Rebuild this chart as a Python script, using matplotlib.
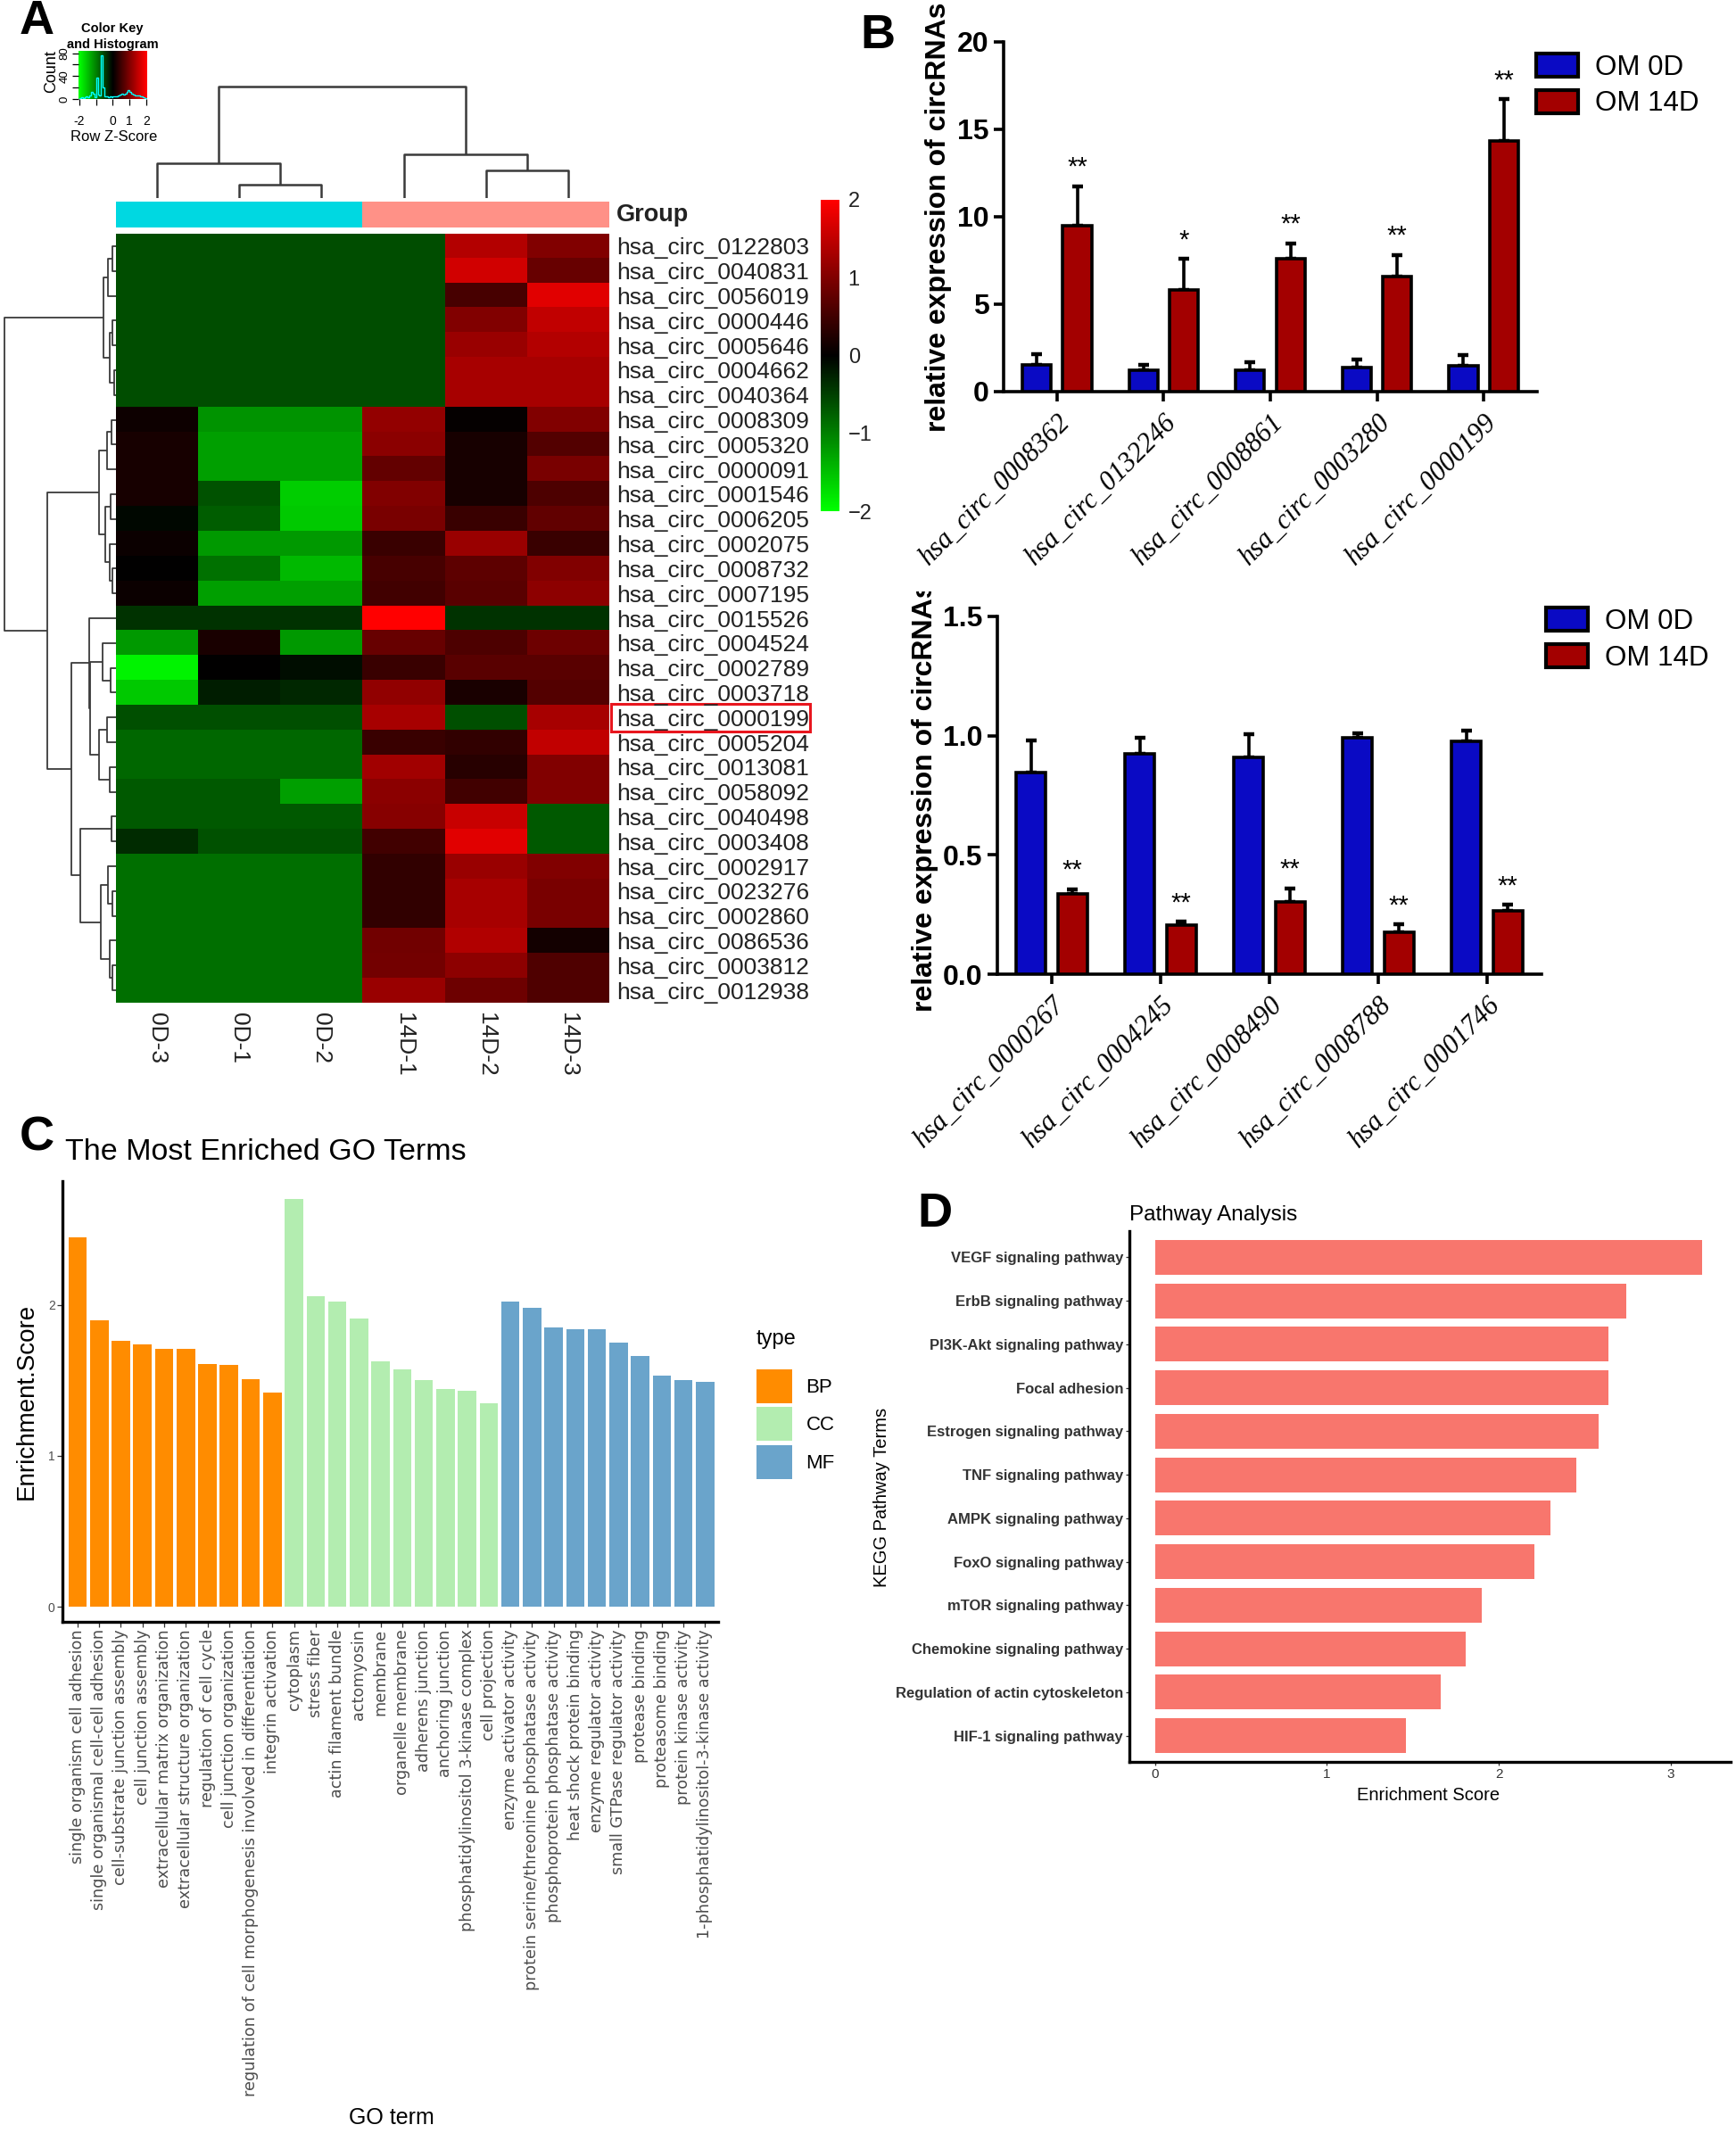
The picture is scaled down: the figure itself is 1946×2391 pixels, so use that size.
import numpy as np
import matplotlib
matplotlib.use("Agg")
import matplotlib.pyplot as plt
from matplotlib.colors import LinearSegmentedColormap, ListedColormap
from matplotlib.patches import Patch, Rectangle
from matplotlib.transforms import Bbox, TransformedBbox

W, H = 1946, 2391
SANS = ["Liberation Sans", "DejaVu Sans"]
SERIF = ["Liberation Serif", "DejaVu Serif"]

# ── Panel A: heatmap data ─────────────────────────────────────────────────────
samples = ["0D-3", "0D-1", "0D-2", "14D-1", "14D-2", "14D-3"]
sample_group = [0, 0, 0, 1, 1, 1]
group_colors = ["#00D8E1", "#FF9187"]

circ_ids = [
    "hsa_circ_0122803", "hsa_circ_0040831", "hsa_circ_0056019", "hsa_circ_0000446",
    "hsa_circ_0005646", "hsa_circ_0004662", "hsa_circ_0040364", "hsa_circ_0008309",
    "hsa_circ_0005320", "hsa_circ_0000091", "hsa_circ_0001546", "hsa_circ_0006205",
    "hsa_circ_0002075", "hsa_circ_0008732", "hsa_circ_0007195", "hsa_circ_0015526",
    "hsa_circ_0004524", "hsa_circ_0002789", "hsa_circ_0003718", "hsa_circ_0000199",
    "hsa_circ_0005204", "hsa_circ_0013081", "hsa_circ_0058092", "hsa_circ_0040498",
    "hsa_circ_0003408", "hsa_circ_0002917", "hsa_circ_0023276", "hsa_circ_0002860",
    "hsa_circ_0086536", "hsa_circ_0003812", "hsa_circ_0012938",
]
highlight_id = "hsa_circ_0000199"

zscores = np.array([
    [-0.60, -0.60, -0.60, -0.60, 1.40, 1.00],
    [-0.60, -0.60, -0.60, -0.60, 1.63, 0.80],
    [-0.60, -0.60, -0.60, -0.60, 0.55, 1.75],
    [-0.60, -0.60, -0.60, -0.60, 1.00, 1.50],
    [-0.60, -0.60, -0.60, -0.60, 1.20, 1.40],
    [-0.60, -0.60, -0.60, -0.60, 1.30, 1.30],
    [-0.60, -0.60, -0.60, -0.60, 1.30, 1.30],
    [0.10, -1.15, -1.15, 1.15, 0.04, 1.00],
    [0.18, -1.25, -1.25, 1.08, 0.18, 0.65],
    [0.18, -1.25, -1.25, 0.78, 0.18, 0.95],
    [0.18, -0.65, -1.60, 1.00, 0.18, 0.60],
    [-0.05, -0.72, -1.57, 0.95, 0.45, 0.75],
    [0.08, -1.20, -1.20, 0.45, 1.20, 0.45],
    [0.00, -0.88, -1.45, 0.56, 0.72, 1.00],
    [0.08, -1.25, -1.25, 0.50, 0.70, 1.10],
    [-0.40, -0.40, -0.40, 2.00, -0.40, -0.40],
    [-1.20, 0.20, -1.20, 0.80, 0.60, 0.85],
    [-1.90, 0.00, -0.10, 0.45, 0.70, 0.70],
    [-1.57, -0.22, -0.30, 1.13, 0.20, 0.65],
    [-0.62, -0.62, -0.62, 1.30, -0.62, 1.30],
    [-0.80, -0.80, -0.80, 0.45, 0.38, 1.50],
    [-0.80, -0.80, -0.80, 1.25, 0.30, 1.00],
    [-0.70, -0.70, -1.25, 1.08, 0.50, 1.00],
    [-0.70, -0.70, -0.70, 1.06, 1.57, -0.70],
    [-0.33, -0.63, -0.63, 0.50, 1.75, -0.70],
    [-0.86, -0.86, -0.86, 0.38, 1.20, 1.00],
    [-0.86, -0.86, -0.86, 0.38, 1.30, 0.95],
    [-0.86, -0.86, -0.86, 0.38, 1.30, 0.95],
    [-0.86, -0.86, -0.86, 0.88, 1.38, 0.15],
    [-0.86, -0.86, -0.86, 0.90, 1.10, 0.62],
    [-0.86, -0.86, -0.86, 1.20, 0.85, 0.62],
])

# dendrograms as nested (height, left, right); leaves are row / column indices
row_tree = (1.0,
            (0.11, (0.07, (0.03, 0, 1), 2), (0.06, (0.03, 3, 4), (0.02, 5, 6))),
            (0.62,
             (0.15, (0.08, (0.04, 7, 8), 9), (0.10, (0.05, 10, 11), (0.06, 12, (0.03, 13, 14)))),
             (0.405,
              (0.24, 15, (0.23, (0.12, 16, (0.05, 17, 18)), (0.15, (0.08, 19, 20), (0.06, 21, 22)))),
              (0.32, (0.04, 23, 24), (0.135, (0.07, 25, (0.03, 26, 27)), (0.06, 28, (0.03, 29, 30)))))))
col_tree = (1.0, (0.31, 0, (0.12, 1, 2)), (0.39, 3, (0.25, 4, 5)))

# colour key histogram (bins of 0.1 from -2 to 2)
key_edges = np.linspace(-2, 2, 41)
key_counts = [2, 3, 2, 3, 4, 3, 6, 12, 10, 3, 37, 8, 6, 76, 20, 4, 5, 3, 4, 3,
              4, 5, 4, 7, 8, 9, 8, 10, 13, 15, 12, 9, 8, 7, 7, 6, 5, 4, 3, 2]

# ── Panel B: qPCR data ────────────────────────────────────────────────────────
up_ids = ["hsa_circ_0008362", "hsa_circ_0132246", "hsa_circ_0008861",
          "hsa_circ_0003280", "hsa_circ_0000199"]
up_0d = [1.55, 1.23, 1.23, 1.40, 1.50]
up_0d_err = [0.61, 0.32, 0.43, 0.43, 0.60]
up_14d = [9.50, 5.83, 7.60, 6.58, 14.35]
up_14d_err = [2.26, 1.77, 0.88, 1.23, 2.37]
up_stars = ["**", "*", "**", "**", "**"]

down_ids = ["hsa_circ_0000267", "hsa_circ_0004245", "hsa_circ_0008490",
            "hsa_circ_0008788", "hsa_circ_0001746"]
down_0d = [0.845, 0.924, 0.908, 0.993, 0.978]
down_0d_err = [0.135, 0.066, 0.097, 0.017, 0.042]
down_14d = [0.335, 0.207, 0.303, 0.177, 0.267]
down_14d_err = [0.022, 0.013, 0.057, 0.032, 0.023]
down_stars = ["**", "**", "**", "**", "**"]

# ── Panel C: GO enrichment ────────────────────────────────────────────────────
go_terms = [
    "single organism cell adhesion", "single organismal cell-cell adhesion",
    "cell-substrate junction assembly", "cell junction assembly",
    "extracellular matrix organization", "extracellular structure organization",
    "regulation of cell cycle", "cell junction organization",
    "regulation of cell morphogenesis involved in differentiation", "integrin activation",
    "cytoplasm", "stress fiber", "actin filament bundle", "actomyosin", "membrane",
    "organelle membrane", "adherens junction", "anchoring junction",
    "phosphatidylinositol 3-kinase complex", "cell projection",
    "enzyme activator activity", "protein serine/threonine phosphatase activity",
    "phosphoprotein phosphatase activity", "heat shock protein binding",
    "enzyme regulator activity", "small GTPase regulator activity", "protease binding",
    "proteasome binding", "protein kinase activity", "1-phosphatidylinositol-3-kinase activity",
]
go_type = ["BP"] * 10 + ["CC"] * 10 + ["MF"] * 10
go_scores = [2.45, 1.90, 1.76, 1.74, 1.71, 1.71, 1.61, 1.60, 1.51, 1.42,
             2.70, 2.055, 2.02, 1.91, 1.625, 1.57, 1.50, 1.44, 1.43, 1.35,
             2.02, 1.98, 1.85, 1.84, 1.84, 1.75, 1.66, 1.53, 1.50, 1.49]
type_colors = {"BP": "#FF8C00", "CC": "#B3EDB0", "MF": "#6AA4CB"}

# ── Panel D: KEGG pathways ────────────────────────────────────────────────────
kegg_terms = ["VEGF signaling pathway", "ErbB signaling pathway", "PI3K-Akt signaling pathway",
              "Focal adhesion", "Estrogen signaling pathway", "TNF signaling pathway",
              "AMPK signaling pathway", "FoxO signaling pathway", "mTOR signaling pathway",
              "Chemokine signaling pathway", "Regulation of actin cytoskeleton",
              "HIF-1 signaling pathway"]
kegg_scores = [3.185, 2.74, 2.64, 2.64, 2.58, 2.45, 2.30, 2.21, 1.90, 1.81, 1.66, 1.46]


fig = plt.figure(figsize=(W / 100, H / 100), dpi=100)
fig.patch.set_facecolor("white")


def px_axes(x0, y0, x1, y1):
    return fig.add_axes([x0 / W, 1 - y1 / H, (x1 - x0) / W, (y1 - y0) / H])


def px_text(x, y, s, **kw):
    return fig.text(x / W, 1 - y / H, s, **kw)


def tree_lines(node):
    if isinstance(node, int):
        return float(node), 0.0, []
    h, left, right = node
    pl, hl, sl = tree_lines(left)
    pr, hr, sr = tree_lines(right)
    return (pl + pr) / 2, h, sl + sr + [([pl, pl, pr, pr], [hl, h, h, hr])]


def bare(ax):
    ax.set_xticks([])
    ax.set_yticks([])
    for s in ax.spines.values():
        s.set_visible(False)


# panel letters
for (lx, ly, letter) in [(22, 24, "A"), (964, 40, "B"), (22, 1275, "C"), (1028, 1361, "D")]:
    px_text(lx, ly, letter, fontsize=39, fontweight="bold", family=SANS, va="center")

# ── Panel A ───────────────────────────────────────────────────────────────────
greenred = LinearSegmentedColormap.from_list("greenred", ["#00FF00", "#000000", "#FF0000"])
n_rows, n_cols = zscores.shape

ax_hm = px_axes(130, 262, 683, 1124)
im = ax_hm.imshow(zscores, cmap=greenred, vmin=-2, vmax=2, aspect="auto",
                  interpolation="nearest")
for s in ax_hm.spines.values():
    s.set_visible(False)
ax_hm.set_xticks(range(n_cols))
ax_hm.set_xticklabels(samples, rotation=270, fontsize=19, family=SANS, color="#222222")
ax_hm.set_yticks(range(n_rows))
ax_hm.set_yticklabels(circ_ids, fontsize=19, family=SANS, color="#222222")
ax_hm.yaxis.tick_right()
ax_hm.tick_params(axis="both", length=0)
ax_hm.tick_params(axis="y", pad=6)
ax_hm.tick_params(axis="x", pad=8)
hi = circ_ids.index(highlight_id)
ax_hm.add_patch(Rectangle((5.52, hi - 0.55), 2.42, 1.1, fill=False, ec="#E8161E",
                          lw=2.2, clip_on=False))

# group colour bar
ax_grp = px_axes(130, 226, 683, 255)
ax_grp.imshow([sample_group], cmap=ListedColormap(group_colors), aspect="auto",
              interpolation="nearest")
bare(ax_grp)
px_text(691, 241, "Group", fontsize=19.5, fontweight="bold", family=SANS, va="center",
        color="#222222")

# column dendrogram
ax_cd = px_axes(130, 94, 683, 222)
for xs, ys in tree_lines(col_tree)[2]:
    ax_cd.plot(xs, ys, color="#3a3a3a", lw=1.8, solid_capstyle="butt")
ax_cd.set_xlim(-0.5, n_cols - 0.5)
ax_cd.set_ylim(0, 1.02)
bare(ax_cd)

# row dendrogram
ax_rd = px_axes(3, 262, 130, 1124)
for xs, ys in tree_lines(row_tree)[2]:
    ax_rd.plot(ys, xs, color="#3a3a3a", lw=1.3, solid_capstyle="butt")
ax_rd.set_xlim(1.02, 0)
ax_rd.set_ylim(n_rows - 0.5, -0.5)
bare(ax_rd)

# colour bar at the right of the heatmap
cax = px_axes(920, 224, 941, 573)
cb = fig.colorbar(im, cax=cax, ticks=[-2, -1, 0, 1, 2])
cb.outline.set_visible(False)
cax.tick_params(length=0, labelsize=17, pad=7)
for t in cax.get_yticklabels():
    t.set_family(SANS)
    t.set_color("#222222")

# colour key and histogram
ax_key = px_axes(88, 57, 165, 111)
ax_key.imshow(np.linspace(-2.05, 2.05, 256)[None, :], cmap=greenred, vmin=-2, vmax=2,
              aspect="auto", extent=(-2.05, 2.05, 0, 84))
ax_key.stairs(key_counts, key_edges, color="#00FFFF", lw=1.0)
ax_key.set_xlim(-2.05, 2.05)
ax_key.set_ylim(0, 84)
ax_key.set_xticks([-2, -1, 0, 1, 2])
ax_key.set_xticklabels(["-2", "", "0", "1", "2"], fontsize=10, family=SANS)
ax_key.set_yticks([0, 20, 40, 60, 80])
ax_key.set_yticklabels(["0", "", "40", "", "80"], fontsize=9.5, family=SANS, rotation=90,
                       va="center")
ax_key.tick_params(length=5, width=0.9)
ax_key.tick_params(axis="x", pad=8)
ax_key.tick_params(axis="y", pad=2)
for s in ax_key.spines.values():
    s.set_visible(False)
px_text(126, 32, "Color Key", fontsize=10.5, fontweight="bold", family=SANS,
        ha="center", va="center")
px_text(126, 50, "and Histogram", fontsize=10.5, fontweight="bold", family=SANS,
        ha="center", va="center")
px_text(128, 153, "Row Z-Score", fontsize=12, family=SANS, ha="center", va="center")
px_text(58, 80, "Count", fontsize=13, family=SANS, ha="center", va="center", rotation=90)


# ── Panel B ───────────────────────────────────────────────────────────────────
def qpcr_panel(box, ids, m0, e0, m14, e14, stars, ymax, ticks, ticklabels, leg_xy):
    ax = px_axes(*box)
    x = np.arange(len(ids))
    off, bw = 0.19, 0.27
    lw = 2.6
    for xs, m, e, c in [(x - off, m0, e0, "#0A0AC4"), (x + off, m14, e14, "#A30000")]:
        ax.errorbar(xs, m, yerr=[np.zeros(len(m)), e], fmt="none", ecolor="black",
                    elinewidth=2.6, capsize=4, capthick=3.2, zorder=2)
        ax.bar(xs, m, bw, color=c, edgecolor="black", linewidth=lw, zorder=3)
    for xi, m, e, s in zip(x + off, m14, e14, stars):
        ax.annotate(s, (xi, m + e), xytext=(0, 5), textcoords="offset points",
                    ha="center", va="bottom", fontsize=21, family=SANS)
    ax.set_xlim(-0.5, len(ids) - 0.5)
    ax.set_ylim(0, ymax)
    for side in ["top", "right"]:
        ax.spines[side].set_visible(False)
    for side in ["left", "bottom"]:
        ax.spines[side].set_linewidth(2.6)
    ax.set_yticks(ticks)
    ax.set_yticklabels(ticklabels, fontsize=23, fontweight="bold", family=SANS)
    ax.set_xticks(x)
    ax.set_xticklabels(ids, rotation=45, ha="right", rotation_mode="anchor",
                       fontsize=22, style="italic", family=SERIF)
    ax.tick_params(axis="both", width=2.6, length=8, direction="out")
    ax.tick_params(axis="x", pad=6)
    ax.tick_params(axis="y", pad=4)
    handles = [Patch(facecolor="#0A0AC4", edgecolor="black", linewidth=3),
               Patch(facecolor="#A30000", edgecolor="black", linewidth=3)]
    ax.legend(handles, ["OM 0D", "OM 14D"], loc="upper left",
              bbox_to_anchor=(leg_xy[0] / W, 1 - leg_xy[1] / H),
              bbox_transform=fig.transFigure, frameon=False, borderpad=0,
              borderaxespad=0, handlelength=1.5, handleheight=0.9,
              handletextpad=0.6, labelspacing=0.32,
              prop={"family": SANS, "size": 22.5})
    return ax


qpcr_panel((1125, 47, 1723, 439), up_ids, up_0d, up_0d_err, up_14d, up_14d_err,
           up_stars, 20, [0, 5, 10, 15, 20], ["0", "5", "10", "15", "20"], (1722, 60))
qpcr_panel((1118, 691, 1728, 1092), down_ids, down_0d, down_0d_err, down_14d, down_14d_err,
           down_stars, 1.5, [0, 0.5, 1.0, 1.5], ["0.0", "0.5", "1.0", "1.5"], (1733, 681))

px_text(1052, 243, "relative expression of circRNAs", fontsize=23, fontweight="bold",
        family=SANS, rotation=90, ha="center", va="center")
t = px_text(1037, 893, "relative expression of circRNAs", fontsize=23, fontweight="bold",
            family=SANS, rotation=90, ha="center", va="center")
t.set_clip_box(TransformedBbox(Bbox([[0, 0], [1, 1 - 663 / H]]), fig.transFigure))
t.set_clip_on(True)

# ── Panel C ───────────────────────────────────────────────────────────────────
ax_go = px_axes(70, 1324, 805, 1818)
xg = np.arange(len(go_terms))
ax_go.bar(xg, go_scores, 0.85, color=[type_colors[t_] for t_ in go_type], zorder=2)
ax_go.set_xlim(-0.7, len(go_terms) - 0.4)
ax_go.set_ylim(-0.1, 2.82)
for side in ["top", "right"]:
    ax_go.spines[side].set_visible(False)
for side in ["left", "bottom"]:
    ax_go.spines[side].set_linewidth(2.4)
ax_go.set_yticks([0, 1, 2])
ax_go.set_yticklabels(["0", "1", "2"], fontsize=10, family=SANS, color="#4D4D4D")
ax_go.set_xticks(xg)
ax_go.set_xticklabels(go_terms, rotation=90, fontsize=12.7, family="DejaVu Sans",
                      color="#4D4D4D")
ax_go.tick_params(axis="both", length=4, width=0.9, color="#333333", pad=2)
leg = ax_go.legend([Patch(facecolor=type_colors[k]) for k in type_colors], list(type_colors),
                   title="type\n", loc="upper left", bbox_to_anchor=(848 / W, 1 - 1490 / H),
                   bbox_transform=fig.transFigure, frameon=False, borderpad=0,
                   borderaxespad=0, handlelength=1.8, handleheight=2.25, handletextpad=0.7,
                   labelspacing=0.22, alignment="left", prop={"family": SANS, "size": 16},
                   title_fontproperties={"family": SANS, "size": 17})
leg.get_title().set_linespacing(0.75)
px_text(73, 1292, "The Most Enriched GO Terms", fontsize=24.5, family=SANS, va="center")
px_text(30, 1571, "Enrichment.Score", fontsize=20, family=SANS, rotation=90,
        ha="center", va="center")
px_text(439, 2374, "GO term", fontsize=18, family=SANS, ha="center", va="center")

# ── Panel D ───────────────────────────────────────────────────────────────────
ax_kg = px_axes(1266, 1380, 1940, 1975)
yk = np.arange(len(kegg_terms))[::-1]
ax_kg.barh(yk, kegg_scores, 0.8, color="#F8766D", zorder=2)
ax_kg.set_xlim(-0.15, 3.35)
ax_kg.set_ylim(-0.6, len(kegg_terms) - 0.4)
for side in ["top", "right"]:
    ax_kg.spines[side].set_visible(False)
for side in ["left", "bottom"]:
    ax_kg.spines[side].set_linewidth(2.4)
ax_kg.set_yticks(yk)
ax_kg.set_yticklabels(kegg_terms, fontsize=12, fontweight="bold", family=SANS,
                      color="#333333")
ax_kg.set_xticks([0, 1, 2, 3])
ax_kg.set_xticklabels(["0", "1", "2", "3"], fontsize=11, family=SANS, color="#333333")
ax_kg.tick_params(axis="both", length=3, width=0.9, color="#333333", pad=2)
px_text(1266, 1362, "Pathway Analysis", fontsize=17.5, family=SANS, va="center")
px_text(988, 1678, "KEGG Pathway Terms", fontsize=14.5, family=SANS, rotation=90,
        ha="center", va="center")
px_text(1601, 2013, "Enrichment Score", fontsize=14.5, family=SANS, ha="center",
        va="center")

fig.savefig("out.png", dpi=100, facecolor="white")
